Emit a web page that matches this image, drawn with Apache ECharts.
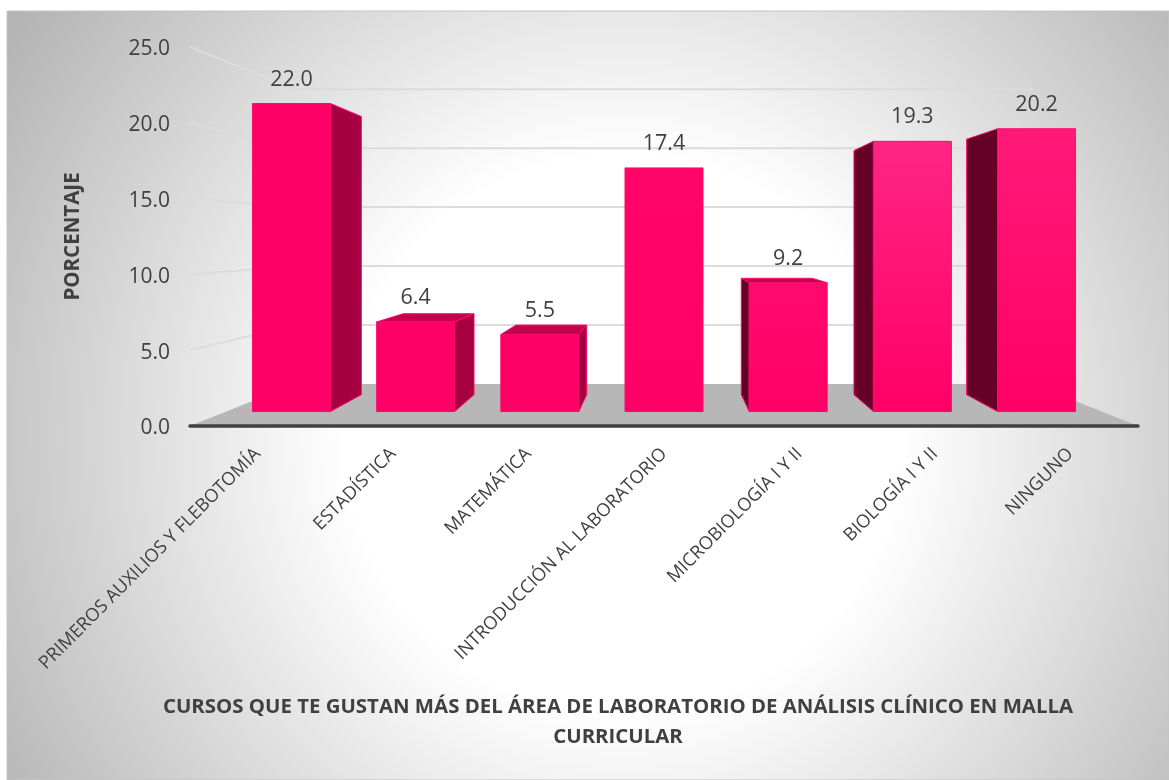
<!DOCTYPE html>
<html lang="es">
<head>
  <meta charset="UTF-8">
  <title>Cursos de laboratorio</title>
  <script src="https://cdn.jsdelivr.net/npm/echarts@6/dist/echarts.min.js"></script>
  <style>
    html, body { margin: 0; background: #fff; }
    #chart { width: 1169px; height: 780px; }
  </style>
</head>
<body>
  <div id="chart"></div>
  <script>
    var cursos = ['PRIMEROS AUXILIOS Y FLEBOTOMÍA', 'ESTADÍSTICA', 'MATEMÁTICA', 'INTRODUCCIÓN AL LABORATORIO', 'MICROBIOLOGÍA I Y II', 'BIOLOGÍA I Y II', 'NINGUNO']
    var porcentajes = [22.0, 6.4, 5.5, 17.4, 9.2, 19.3, 20.2]
    var marcas = [0, 5, 10, 15, 20, 25]
    var tituloX = 'CURSOS QUE TE GUSTAN MÁS DEL ÁREA DE LABORATORIO DE ANÁLISIS CLÍNICO EN MALLA\nCURRICULAR'
    var tituloY = 'PORCENTAJE'

    // punto de fuga de la perspectiva y profundidad de cada plano
    var VX = 664, VY = 237
    var PARED = { x: 0.778, y: 0.778 }
    var FRENTE = { x: 0.917, y: 0.9235 }
    var FONDO = { x: 0.832, y: 0.834 }
    var ANCHO_BARRA = 0.628
    var FUENTE = '"Open Sans", sans-serif'
    // brillo de la cara frontal, arriba de cada barra
    var brillo = ['#FF0066', '#FF0066', '#FF0066', '#FF0469', '#FF0A6E', '#FF2585', '#FF1A78']

    function proyectar(x, y, p) {
      return [VX + (x - VX) * p.x, VY + (y - VY) * p.y]
    }

    function cara(puntos, relleno) {
      return {
        type: 'polygon',
        shape: { points: puntos },
        style: { fill: relleno, stroke: '#FF0A6C', lineWidth: 1 }
      }
    }

    function pintarParedes(params, api) {
      var grid = params.coordSys
      var v = api.value(0)
      var y = api.coord([0, v])[1]
      var izq = grid.x, der = grid.x + grid.width
      var a = proyectar(izq, y, PARED), b = proyectar(der, y, PARED)
      if (v === 0) {
        return {
          type: 'polygon',
          shape: { points: [[izq, y], a, b, [der, y]] },
          style: { fill: '#B7B7B7' }
        }
      }
      return {
        type: 'polyline',
        shape: { points: [[izq, y], a, b] },
        style: { fill: 'none', stroke: '#DCDCDC', lineWidth: 2 }
      }
    }

    function pintarBarra(params, api) {
      var i = api.value(0), v = api.value(1)
      var base = api.coord([i, 0]), tope = api.coord([i, v])
      var ancho = api.size([1, 0])[0] * ANCHO_BARRA
      var x0 = base[0] - ancho / 2, x1 = base[0] + ancho / 2

      var fa = proyectar(x0, tope[1], FRENTE), fb = proyectar(x1, tope[1], FRENTE)
      var fc = proyectar(x1, base[1], FRENTE), fd = proyectar(x0, base[1], FRENTE)
      var ta = proyectar(x0, tope[1], FONDO), tb = proyectar(x1, tope[1], FONDO)
      var tc = proyectar(x1, base[1], FONDO), td = proyectar(x0, base[1], FONDO)

      var hijos = []
      if (tope[1] > VY) hijos.push(cara([fa, ta, tb, fb], '#C4004E'))
      if (fb[0] < VX) hijos.push(cara([fb, tb, tc, fc], '#A50040'))
      if (fa[0] > VX) hijos.push(cara([fa, ta, td, fd], '#650026'))
      hijos.push(cara([fa, fb, fc, fd], {
        type: 'linear', x: 0, y: 0, x2: 0, y2: 1,
        colorStops: [{ offset: 0, color: brillo[i] }, { offset: 1, color: '#FF0066' }]
      }))
      hijos.push({
        type: 'text',
        style: {
          x: (fa[0] + fb[0]) / 2, y: fa[1] - 24, text: v.toFixed(1),
          textAlign: 'center', textVerticalAlign: 'middle',
          font: '21.5px ' + FUENTE, fill: '#404040'
        }
      })
      return { type: 'group', children: hijos }
    }

    var mCharts = echarts.init(document.getElementById('chart'))
    var option = {
      animation: false,
      graphic: [{
        type: 'rect', z: -10, silent: true,
        shape: { x: 7, y: 11, width: 1162, height: 769 },
        style: {
          stroke: '#C4C4C4', lineWidth: 1,
          fill: {
            type: 'radial', x: 0.53, y: 0.55, r: 0.95,
            colorStops: [
              { offset: 0, color: '#FFFFFF' },
              { offset: 0.38, color: '#FFFFFF' },
              { offset: 1, color: '#B4B4B4' }
            ]
          }
        }
      }],
      title: {
        text: tituloX, left: 613, top: 687, textAlign: 'center',
        textStyle: { fontFamily: FUENTE, fontSize: 20.4, fontWeight: 'bold', color: '#404040', lineHeight: 30 }
      },
      grid: { left: 190, right: 31, top: 47, bottom: 354 },
      xAxis: {
        type: 'category', data: cursos, z: 5,
        axisLine: { lineStyle: { color: '#404040', width: 3.5, cap: 'round' } },
        axisTick: { show: false },
        axisLabel: { rotate: 45, margin: 25, interval: 0, color: '#404040', fontFamily: FUENTE, fontSize: 18.2 }
      },
      yAxis: {
        type: 'value', min: 0, max: 25, interval: 5,
        name: tituloY, nameLocation: 'middle', nameGap: 106, nameRotate: 90,
        nameTextStyle: { fontFamily: FUENTE, fontSize: 20.5, fontWeight: 'bold', color: '#404040' },
        axisLine: { show: false }, axisTick: { show: false }, splitLine: { show: false },
        axisLabel: {
          margin: 20,
          formatter: function (v) { return '{n|' + v.toFixed(1) + '}' },
          rich: { n: { color: '#404040', fontFamily: FUENTE, fontSize: 21, padding: [5, 0, 0, 0] } }
        }
      },
      series: [
        {
          type: 'custom', silent: true, clip: false, z: 1,
          encode: { y: 0 },
          data: marcas.map(function (m) { return [m] }),
          renderItem: pintarParedes
        },
        {
          type: 'custom', silent: true, clip: false, z: 2,
          encode: { x: 0, y: 1 },
          data: porcentajes.map(function (v, i) { return [i, v] }),
          renderItem: pintarBarra
        }
      ]
    }
    mCharts.setOption(option)
  </script>
</body>
</html>
